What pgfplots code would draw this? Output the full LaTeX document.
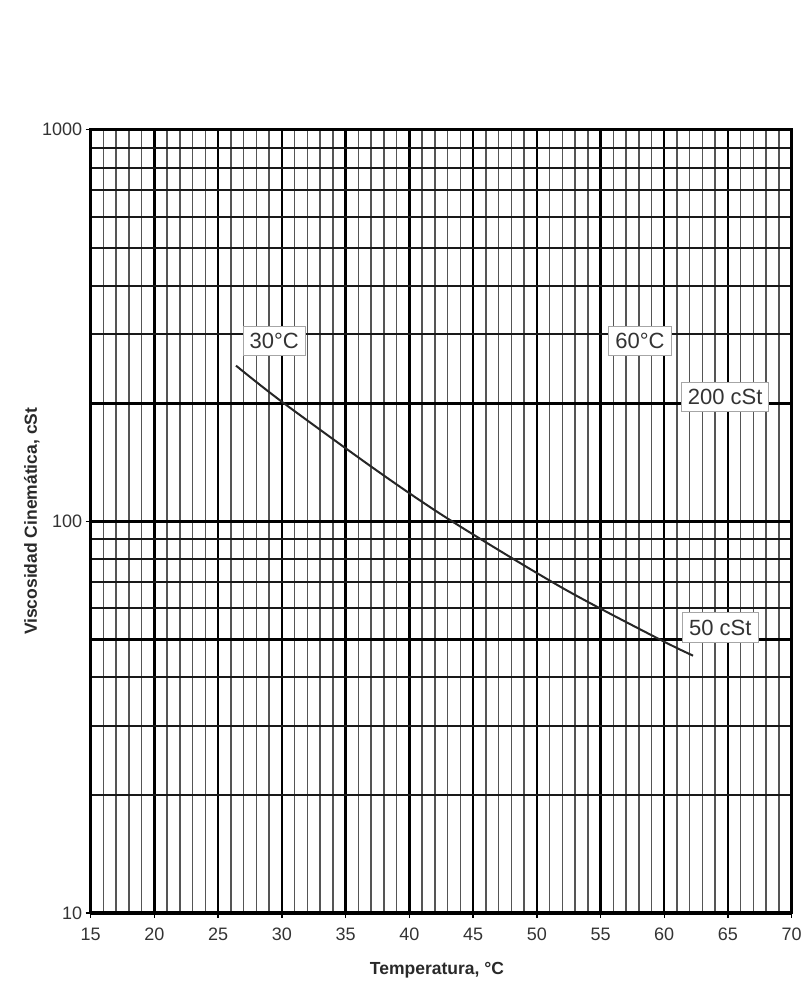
\documentclass[border=0pt]{standalone}
\usepackage{pgfplots}
\pgfplotsset{compat=1.18}
\usepackage{fontspec}
\setmainfont{Liberation Sans}
\definecolor{txt}{HTML}{333333}
\definecolor{minorv}{HTML}{555555}
\begin{document}
\begin{tikzpicture}
\useasboundingbox (-90.7pt,-68pt) rectangle (720.3pt,913pt);
\begin{axis}[
  at={(0pt,0pt)}, anchor=south west,
  scale only axis, width=701pt, height=783.3pt,
  xmin=15, xmax=70, ymin=10, ymax=1000, ymode=log,
  xtick={15,20,...,70},
  xticklabels={15,20,25,30,35,40,45,50,55,60,65,70},
  minor x tick num=4,
  ytick={10,100,1000},
  yticklabels={10,100,1000},
  minor ytick={20,30,40,50,60,70,80,90,200,300,400,500,600,700,800,900},
  extra y ticks={50,200},
  extra y tick labels={},
  extra y tick style={major tick length=0pt, grid style={line width=3pt, black}},
  grid=both,
  major x grid style={line width=2.4pt, black},
  minor x grid style={line width=1.5pt, minorv},
  major y grid style={line width=3.2pt, black},
  minor y grid style={line width=2pt, black!90},
  axis line style={line width=2.6pt, black},
  tick pos=left,
  tick align=outside,
  major tick length=5pt,
  minor tick length=0pt,
  tick style={line width=1.5pt, black},
  ticklabel style={font=\fontsize{18}{20}\selectfont, text=txt},
  xticklabel style={text height=13pt, text depth=0pt, yshift=-6pt},
  xlabel={Temperatura, °C},
  ylabel={Viscosidad Cinemática, cSt},
  label style={font=\fontsize{17.5}{20}\bfseries\selectfont, text=txt!80!black},
  xlabel style={at={([yshift=-57pt]axis description cs:0.494,0)}, anchor=center},
  ylabel style={at={([xshift=-59pt]axis description cs:0,0.5)}, anchor=center, rotate=0},
  clip=false,
]
\addplot[line width=2pt, black!85, smooth] coordinates {
  (26.40,249.8) (30.0,202) (37.70,133) (43.35,100) (51.98,67.7) (59.51,50.2) (62.26,45.4)
};
\begin{scope}[every node/.style={draw=gray!70, line width=1pt, fill=white, text=txt,
   font=\fontsize{22}{24}\selectfont, inner xsep=6.5pt, inner ysep=7pt}]
\node at (axis cs:29.4,289) {30°C};
\node at (axis cs:58.1,289) {60°C};
\node at (axis cs:64.78,207.6) {200 cSt};
\node at (axis cs:64.4,53.5) {50 cSt};
\end{scope}
\end{axis}
\end{tikzpicture}
\end{document}
